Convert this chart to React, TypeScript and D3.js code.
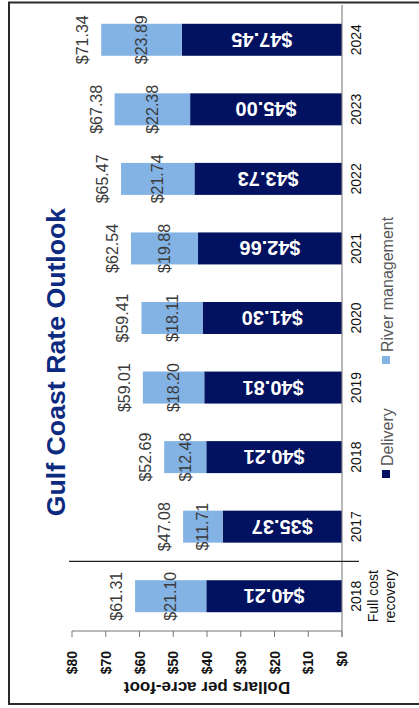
import React from "react";
import * as d3 from "d3";

const categories = ["2018|Full cost|recovery", "2017", "2018", "2019", "2020", "2021", "2022", "2023", "2024"];
const delivery = [40.21, 35.37, 40.21, 40.81, 41.3, 42.66, 43.73, 45.0, 47.45];
const river = [21.1, 11.71, 12.48, 18.2, 18.11, 19.88, 21.74, 22.38, 23.89];
const totals = [61.31, 47.08, 52.69, 59.01, 59.41, 62.54, 65.47, 67.38, 71.34];
const ticks = [0, 10, 20, 30, 40, 50, 60, 70, 80];
const seriesNames = ["Delivery", "River management"];

const W = 419;
const H = 708;
const FONT = "'Liberation Sans', Arial, sans-serif";
const NAVY = "#021260";
const LIGHT = "#83b3e5";
const TITLE = "#0c2a80";

const fmt = (v: number) => "$" + v.toFixed(2);

export default function App() {
  const x = d3.scaleLinear().domain([0, 80]).range([342, 72]);
  const y = d3
    .scaleBand<string>()
    .domain(categories)
    .range([631, 5])
    .paddingInner(0.54)
    .paddingOuter(0.27);
  const bw = y.bandwidth();
  const step = y.step();

  return (
    <svg width={W} height={H} style={{ position: "absolute", left: 0, top: 0 }} fontFamily={FONT}>
      <rect x={0} y={0} width={W} height={H} fill="#fff" />
      <rect x={9} y={2.5} width={W + 10} height={701.5} fill="none" stroke="#2a2a2a" strokeWidth={2} />

      {/* title */}
      <text
        transform={`translate(65,362) rotate(-90)`}
        textAnchor="middle"
        fontSize={26.7}
        fontWeight="bold"
        fill={TITLE}
      >
        Gulf Coast Rate Outlook
      </text>

      {/* bars */}
      {categories.map((c, i) => {
        const y0 = y(c)!;
        const d = delivery[i];
        const r = river[i];
        return (
          <g key={c}>
            <rect x={x(d)} y={y0} width={x(0) - x(d)} height={bw} fill={NAVY} />
            <rect x={x(d + r)} y={y0} width={x(d) - x(d + r)} height={bw} fill={LIGHT} />
          </g>
        );
      })}

      {/* value axis */}
      <line x1={x(80)} x2={x(0)} y1={631} y2={631} stroke="#777" strokeWidth={1} />
      {ticks.map((t) => (
        <g key={t}>
          <line x1={x(t)} x2={x(t)} y1={631} y2={637} stroke="#777" strokeWidth={1} />
          <text
            transform={`translate(${x(t)},651) rotate(-90)`}
            textAnchor="end"
            dominantBaseline="central"
            fontSize={14}
            fontWeight="bold"
            fill="#111"
          >
            {"$" + t}
          </text>
        </g>
      ))}
      <text
        transform={`translate(${(x(0) + x(80)) / 2},687) rotate(180)`}
        textAnchor="middle"
        dominantBaseline="central"
        fontSize={17}
        fontWeight="bold"
        fill="#111"
      >
        Dollars per acre-foot
      </text>

      {/* category axis */}
      <line x1={x(0)} x2={x(0)} y1={5} y2={637} stroke="#888" strokeWidth={1.2} />
      <line x1={69} x2={359} y1={631 - step} y2={631 - step} stroke="#222" strokeWidth={1.2} />
      {categories.map((c, i) => {
        const cy = y(c)! + bw / 2;
        const lines = c.split("|");
        return (
          <text
            key={"cl" + i}
            transform={`translate(361,${cy}) rotate(-90)`}
            textAnchor="middle"
            fontSize={14}
            fill="#111"
          >
            {lines.map((l, k) => (
              <tspan key={k} x={0} dy={k === 0 ? 0 : 17}>
                {l}
              </tspan>
            ))}
          </text>
        );
      })}

      {/* delivery labels */}
      {categories.map((c, i) => {
        const cy = y(c)! + bw / 2;
        const cx = (x(0) + x(delivery[i])) / 2;
        return (
          <text
            key={"dl" + i}
            transform={`translate(${cx},${cy}) rotate(180)`}
            textAnchor="middle"
            dominantBaseline="central"
            fontSize={20}
            fontWeight="bold"
            fill="#fff"
          >
            {fmt(delivery[i])}
          </text>
        );
      })}

      {/* river labels */}
      {categories.map((c, i) => {
        const cy = y(c)! + bw / 2;
        const cx = (x(delivery[i]) + x(delivery[i] + river[i])) / 2;
        return (
          <text
            key={"rl" + i}
            transform={`translate(${cx},${cy}) rotate(-90)`}
            textAnchor="middle"
            dominantBaseline="central"
            fontSize={16}
            fill="#3a3a3a"
          >
            {fmt(river[i])}
          </text>
        );
      })}

      {/* total labels */}
      {categories.map((c, i) => {
        const cy = y(c)! + bw / 2;
        const bx = x(totals[i]) - 13;
        return (
          <text
            key={"tl" + i}
            transform={`translate(${bx},${cy}) rotate(-90)`}
            textAnchor="middle"
            fontSize={16}
            fill="#3a3a3a"
          >
            {fmt(totals[i])}
          </text>
        );
      })}

      {/* legend */}
      <g transform="translate(393,478) rotate(-90)">
        <rect x={0} y={-11} width={8} height={8} fill={NAVY} />
        <text x={12} y={0} fontSize={16} fill="#595959">
          {seriesNames[0]}
        </text>
        <rect x={114} y={-11} width={8} height={8} fill={LIGHT} />
        <text x={126} y={0} fontSize={16} fill="#595959">
          {seriesNames[1]}
        </text>
      </g>
    </svg>
  );
}
